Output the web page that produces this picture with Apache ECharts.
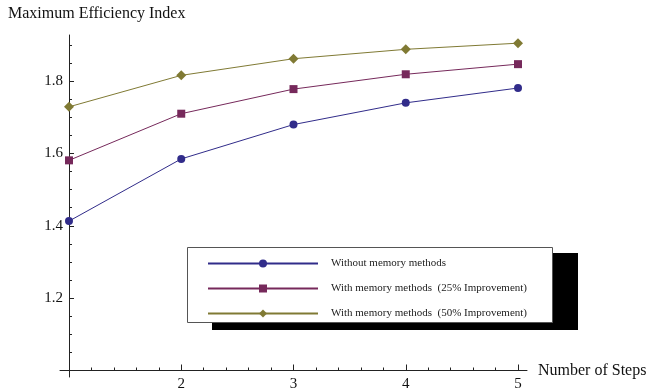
<!DOCTYPE html>
<html>
<head>
<meta charset="utf-8">
<script src="https://cdn.jsdelivr.net/npm/echarts@6/dist/echarts.min.js"></script>
<style>
html,body{margin:0;padding:0;background:#fff;}
#chart{width:647px;height:388px;}
</style>
</head>
<body>
<div id="chart"></div>
<script>
var steps = [1, 2, 3, 4, 5];
var withoutMemory = [1.413, 1.585, 1.680, 1.740, 1.781];
var memory25 = [1.581, 1.710, 1.778, 1.819, 1.847];
var memory50 = [1.729, 1.816, 1.862, 1.888, 1.905];
var seriesNames = [
  'Without memory methods',
  'With memory methods  (25% Improvement)',
  'With memory methods  (50% Improvement)'
];
var xMajorTicks = [2, 3, 4, 5];
var xMinorTicks = [1.2, 1.4, 1.6, 1.8, 2.2, 2.4, 2.6, 2.8, 3.2, 3.4, 3.6, 3.8, 4.2, 4.4, 4.6, 4.8];
var yMajorTicks = [1.2, 1.4, 1.6, 1.8];
var yMinorTicks = [1.05, 1.1, 1.15, 1.25, 1.3, 1.35, 1.45, 1.5, 1.55, 1.65, 1.7, 1.75, 1.85, 1.9];

var FONT = '"Liberation Serif", "Times New Roman", serif';
var AXIS_COLOR = '#222';
var X_MIN = 0.92, X_MAX = 5.08, Y_MIN = 0.982, Y_MAX = 1.9276;

function pairs(vals) {
  return steps.map(function (s, i) { return [s, vals[i]]; });
}

var chart = echarts.init(document.getElementById('chart'), null, {renderer: 'canvas'});
var option = {
  animation: false,
  backgroundColor: '#fff',
  title: {
    text: 'Maximum Efficiency Index',
    left: 8, top: 6, padding: 0,
    textStyle: {fontFamily: FONT, fontSize: 16, fontWeight: 'normal', color: '#111'}
  },
  grid: {left: 60, width: 467, top: 35, height: 342, containLabel: false, outerBoundsMode: 'none'},
  xAxis: [{
    type: 'value', min: X_MIN, max: X_MAX, position: 'bottom', offset: -6.5,
    name: 'Number of Steps', nameLocation: 'end', nameGap: 11,
    nameTextStyle: {fontFamily: FONT, fontSize: 16, color: '#111', padding: [0, 0, 4, 0]},
    axisLine: {show: true, onZero: false, lineStyle: {color: AXIS_COLOR, width: 1}},
    axisTick: {show: true, inside: true, length: 6, customValues: xMajorTicks, lineStyle: {color: AXIS_COLOR}},
    axisLabel: {show: true, customValues: xMajorTicks, margin: 6, fontFamily: FONT, fontSize: 15, color: '#111'},
    splitLine: {show: false}
  }, {
    type: 'value', min: X_MIN, max: X_MAX, position: 'bottom', offset: -6.5,
    axisLine: {show: false, onZero: false},
    axisTick: {show: true, inside: true, length: 3, customValues: xMinorTicks, lineStyle: {color: AXIS_COLOR}},
    axisLabel: {show: false},
    splitLine: {show: false}
  }],
  yAxis: [{
    type: 'value', min: Y_MIN, max: Y_MAX, position: 'left', offset: -9,
    axisLine: {show: true, onZero: false, lineStyle: {color: AXIS_COLOR, width: 1}},
    axisTick: {show: true, inside: true, length: 5, customValues: yMajorTicks, lineStyle: {color: AXIS_COLOR}},
    axisLabel: {show: true, customValues: yMajorTicks, margin: 6, fontFamily: FONT, fontSize: 15, color: '#111',
      formatter: function (v) { return v.toFixed(1); }},
    splitLine: {show: false}
  }, {
    type: 'value', min: Y_MIN, max: Y_MAX, position: 'left', offset: -9,
    axisLine: {show: false, onZero: false},
    axisTick: {show: true, inside: true, length: 3, customValues: yMinorTicks, lineStyle: {color: AXIS_COLOR}},
    axisLabel: {show: false},
    splitLine: {show: false}
  }],
  legend: {
    left: 207, top: 258, padding: 0,
    orient: 'vertical',
    itemWidth: 110, itemHeight: 10, itemGap: 14,
    textStyle: {fontFamily: FONT, fontSize: 11, color: '#222', padding: [0, 0, 0, 8]},
    data: seriesNames
  },
  graphic: [
    {type: 'rect', z: 5, shape: {x: 212, y: 253, width: 366, height: 77}, style: {fill: '#000'}},
    {type: 'rect', z: 6, shape: {x: 187.5, y: 247.5, width: 365, height: 75}, style: {fill: '#fff', stroke: '#555', lineWidth: 1}}
  ],
  series: [{
    name: seriesNames[0], type: 'line', xAxisIndex: 0, yAxisIndex: 0,
    data: pairs(withoutMemory), symbol: 'circle', symbolSize: 8,
    lineStyle: {color: '#312c8a', width: 1}, itemStyle: {color: '#312c8a'}
  }, {
    name: seriesNames[1], type: 'line', xAxisIndex: 0, yAxisIndex: 0,
    data: pairs(memory25), symbol: 'rect', symbolSize: 8,
    lineStyle: {color: '#76295b', width: 1}, itemStyle: {color: '#76295b'}
  }, {
    name: seriesNames[2], type: 'line', xAxisIndex: 0, yAxisIndex: 0,
    data: pairs(memory50), symbol: 'diamond', symbolSize: 10,
    lineStyle: {color: '#807a34', width: 1}, itemStyle: {color: '#807a34'}
  }]
};
option.legend.z = 10;
chart.setOption(option);
</script>
</body>
</html>
